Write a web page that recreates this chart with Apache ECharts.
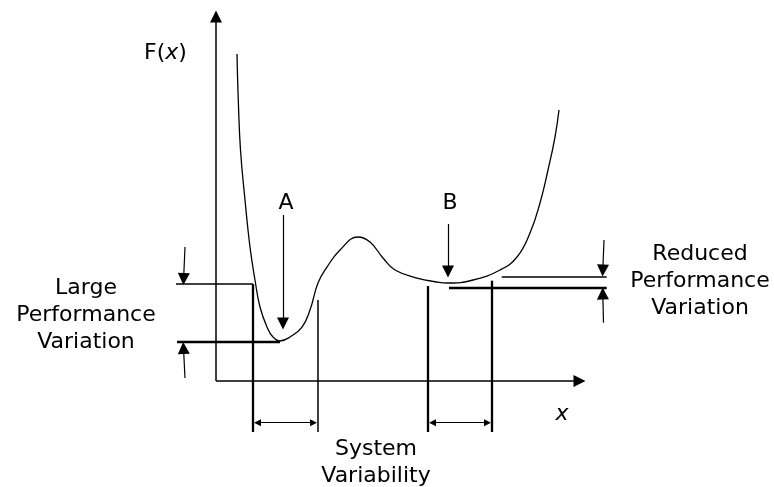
<!DOCTYPE html>
<html><head><meta charset="utf-8">
<script src="https://cdn.jsdelivr.net/npm/echarts@6/dist/echarts.min.js"></script>
<style>html,body{margin:0;padding:0;background:#fff}#c{width:774px;height:487px}</style>
</head><body><div id="c"></div>
<script>
// Performance function F(x) (conceptual curve), data units
const curveX = [0.569,0.604,0.664,0.786,0.921,1.057,1.192,1.382,1.545,1.734,2.005,2.331,2.547,2.764,3.008,3.360,3.848,4.173,4.526,4.851,5.447,5.989,6.287,6.965,7.696,8.157,8.509,8.780,8.997,9.187,9.295];
const curveF = [8.862,7.615,6.260,4.905,3.631,2.737,2.005,1.463,1.192,1.084,1.192,1.463,1.924,2.656,3.089,3.550,3.902,3.767,3.333,3.008,2.791,2.683,2.656,2.737,3.008,3.360,4.011,4.824,5.718,6.612,7.344];

// axes (origin to arrow)
const axisLines = [[[0,0],[0,9.878]], [[0,0],[9.851,0]]];
// single-headed pointer arrows: A, B, and the performance-variation markers
const pointerArrows = [
  [[1.816,4.499],[1.816,1.558]],
  [[6.287,4.255],[6.287,2.967]],
  [[-0.840,3.631],[-0.878,2.764]],
  [[-0.840,0.081],[-0.881,0.894]],
  [[10.515,3.821],[10.482,2.995]],
  [[10.501,1.580],[10.482,2.371]]
];
// double-headed system-variability arrows
const rangeArrows = [
  [[1.125,-1.130],[2.642,-1.130]],
  [[5.867,-1.130],[7.358,-1.130]]
];
// guide lines
const thinGuides = [
  [[-1.084,2.629],[1.003,2.629]],
  [[2.756,2.195],[2.756,-1.382]],
  [[7.743,2.827],[10.588,2.827]]
];
const thickGuides = [
  [[1.003,2.629],[1.003,-1.382]],
  [[-1.057,1.057],[1.734,1.057]],
  [[5.737,2.575],[5.737,-1.382]],
  [[7.480,2.718],[7.480,-1.382]],
  [[6.314,2.539],[10.588,2.539]]
];
// text labels
const labelTexts = ['F({i|x})','A','B','Large\nPerformance\nVariation','Reduced\nPerformance\nVariation','System\nVariability','{i|x}'];
const labelX = [-1.369,1.897,6.341,-3.523,13.117,4.336,9.377];
const labelY = [8.889,4.824,4.824,1.775,2.696,-2.222,-0.894];

const FONT = 'DejaVu Sans, Verdana, sans-serif';
const toLines = arr => arr.map(c => ({coords: c}));

const chart = echarts.init(document.getElementById('c'), null, {renderer:'canvas'});
chart.setOption({
  animation: false,
  backgroundColor: '#fff',
  grid: {left: 216, right: 189, top: 12, bottom: 106},
  xAxis: {type:'value', min:0, max:10, show:false},
  yAxis: {type:'value', min:0, max:10, show:false},
  series: [
    {type:'line', data: curveX.map((x,i)=>[x,curveF[i]]), smooth:0.45, symbol:'none',
     lineStyle:{color:'#000', width:1.3}, clip:false},
    {type:'lines', coordinateSystem:'cartesian2d', clip:false, data: toLines(axisLines),
     symbol:['none','triangle'], symbolSize:12, lineStyle:{color:'#000', width:1.5, opacity:1}},
    {type:'lines', coordinateSystem:'cartesian2d', clip:false, data: toLines(pointerArrows),
     symbol:['none','triangle'], symbolSize:12, lineStyle:{color:'#000', width:1.2, opacity:1}},
    {type:'lines', coordinateSystem:'cartesian2d', clip:false, data: toLines(rangeArrows),
     symbol:['triangle','triangle'], symbolSize:7, lineStyle:{color:'#000', width:1.2, opacity:1}},
    {type:'lines', coordinateSystem:'cartesian2d', clip:false, data: toLines(thinGuides),
     symbol:'none', lineStyle:{color:'#000', width:1.5, opacity:1}},
    {type:'lines', coordinateSystem:'cartesian2d', clip:false, data: toLines(thickGuides),
     symbol:'none', lineStyle:{color:'#000', width:2.3, opacity:1}},
    {type:'scatter', clip:false, symbolSize:0, itemStyle:{color:'#000', opacity:1},
     data: labelTexts.map((t,i)=>({value:[labelX[i],labelY[i]], name:t})),
     label:{show:true, position:'inside', formatter: p => p.name, color:'#000', opacity:1,
       textBorderWidth:0, fontFamily: FONT, fontSize:22, lineHeight:27, align:'center', verticalAlign:'middle',
       rich:{i:{fontStyle:'italic', fontFamily: FONT, fontSize:22, color:'#000', textBorderWidth:0}}},
     emphasis:{disabled:true}}
  ]
});
</script></body></html>
